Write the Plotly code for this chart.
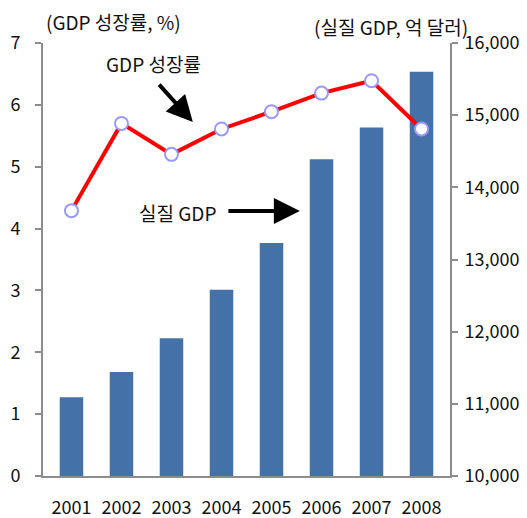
import plotly.graph_objects as go

years = ["2001", "2002", "2003", "2004", "2005", "2006", "2007", "2008"]
real_gdp = [11090, 11440, 11910, 12580, 13230, 14390, 14830, 15600]
growth = [4.29, 5.70, 5.20, 5.61, 5.89, 6.19, 6.39, 5.61]

FONT = "Noto Sans CJK KR"
AXIS_GREY = "#8c8c8c"

fig = go.Figure()

# bars on the right-hand axis (base axis so the line sits on top)
fig.add_trace(go.Bar(
    x=years, y=real_gdp, yaxis="y",
    marker=dict(color="#4472a8", line=dict(width=0)),
    width=0.47,
))

fig.add_trace(go.Scatter(
    x=years, y=growth, yaxis="y2",
    mode="lines+markers",
    line=dict(color="#ff0000", width=4),
    marker=dict(size=13, color="white", line=dict(color="#9999ff", width=2)),
))

# page body has an 8px margin, so the figure is 8px smaller on each side
fig.update_layout(
    width=519, height=510,
    paper_bgcolor="white", plot_bgcolor="white",
    showlegend=False,
    margin=dict(l=35, r=77, t=35, b=42),
    font=dict(family=FONT, size=18, color="#111111"),
    bargap=0.5,
    xaxis=dict(
        showline=True, linecolor=AXIS_GREY, linewidth=2,
        ticks="", showgrid=False, tickfont=dict(size=18),
        ticklabelstandoff=14, automargin=False,
    ),
    yaxis=dict(
        side="right", range=[10000, 16000], dtick=1000,
        tickformat=",d", showgrid=False, zeroline=False,
        showline=True, linecolor=AXIS_GREY, linewidth=2,
        ticks="outside", ticklen=6, tickcolor=AXIS_GREY, tickwidth=2,
        ticklabelstandoff=3, automargin=False, tickfont=dict(size=18),
    ),
    yaxis2=dict(
        side="left", overlaying="y", range=[0, 7], dtick=1,
        showgrid=False, zeroline=False,
        showline=True, linecolor=AXIS_GREY, linewidth=2,
        ticks="outside", ticklen=6, tickcolor=AXIS_GREY, tickwidth=2,
        ticklabelstandoff=11, automargin=False, tickfont=dict(size=18),
    ),
)

annotations = [
    dict(text="(GDP 성장률, %)", x=114, y=22),
    dict(text="(실질 GDP, 억 달러)", x=391, y=27),
    dict(text="GDP 성장률", x=154, y=63),
    dict(text="실질 GDP", x=178, y=212),
]
for a in annotations:
    fig.add_annotation(
        text=a["text"], xref="paper", yref="paper",
        x=(a["x"] - 43.3) / 406.7, y=(475.7 - a["y"]) / 432.7,
        xanchor="center", yanchor="middle", showarrow=False,
        font=dict(family=FONT, size=19, color="#111111"),
    )

# arrows: (tip_x, tip_y, tail dx, tail dy) in pixels
arrows = [(193, 122, -35, -39), (300, 211, -73, 0)]
for tx, ty, dx, dy in arrows:
    fig.add_annotation(
        text="", xref="paper", yref="paper",
        x=(tx - 43.3) / 406.7, y=(475.7 - ty) / 432.7,
        ax=dx, ay=dy, showarrow=True,
        arrowhead=2, arrowsize=1.3, arrowwidth=4, arrowcolor="black",
    )

fig.write_html("out.html")
